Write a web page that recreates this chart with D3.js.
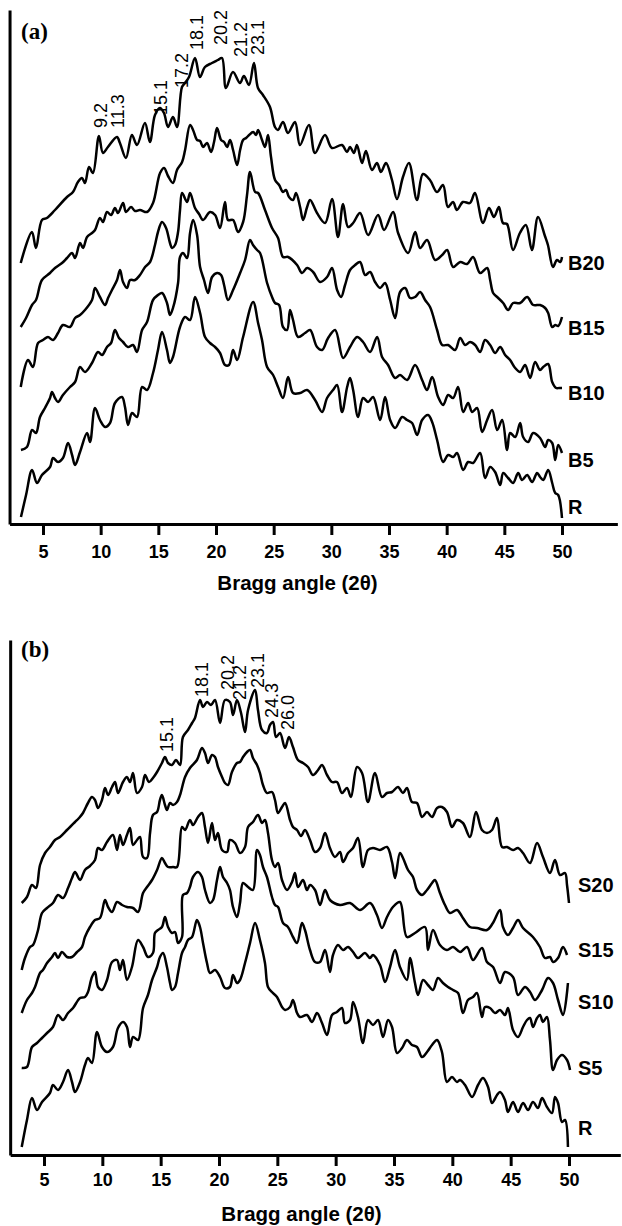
<!DOCTYPE html>
<html>
<head>
<meta charset="utf-8">
<script src="https://cdn.jsdelivr.net/npm/d3@7"></script>
<style>
body { margin: 0; background: #fff; }
svg { display: block; font-family: Arial, "Liberation Sans", sans-serif; }
.curve { fill: none; stroke: #000; stroke-width: 2.5; stroke-linejoin: round; }
.axis path, .axis line { stroke: #000; stroke-width: 3; }
.axis text { font-size: 18px; font-weight: bold; fill: #000; }
.title { font-size: 20.5px; font-weight: bold; }
.name { font-size: 20px; font-weight: bold; }
.peak { font-size: 18px; }
.panel { font-family: "Liberation Serif", "Times New Roman", serif; font-size: 23px; font-weight: bold; }
</style>
</head>
<body>
<svg width="622" height="1226"></svg>
<script>
// ---- panel (a): B series, 2theta (deg) and intensity (a.u.)
const b20Angle = [3.07,4.04,4.39,4.91,5.34,6.04,7.08,7.6,8.03,8.38,8.64,8.99,9.33,9.85,10.2,10.63,11.41,11.67,12.19,12.71,13.15,13.84,14.27,14.71,15.14,15.49,15.84,16.27,16.62,17.05,17.31,17.66,18.18,18.61,19.04,19.65,20.17,20.52,20.86,21.47,22.08,22.42,22.86,23.29,23.64,24.07,24.68,25.11,25.37,25.81,26.24,26.85,27.28,28.06,28.58,29.45,30.05,30.92,31.36,31.62,31.96,32.22,32.66,33.0,33.52,33.96,34.3,34.74,35.26,35.69,36.21,36.73,37.42,37.94,38.55,39.16,39.68,40.11,40.55,40.89,41.41,42.02,42.45,43.15,43.67,44.1,44.53,44.88,45.23,45.75,46.35,46.87,47.39,47.92,48.52,48.78,49.22,49.56,49.85,50.0]
const b20Int = [261,292,276,304,306,314,327,332,342,346,341,357,351,388,371,377,387,381,366,389,379,401,382,409,416,411,397,407,397,437,441,447,466,447,457,461,464,466,436,452,441,448,439,461,436,429,417,397,394,402,391,402,379,399,371,389,376,379,372,377,371,379,361,373,354,361,352,361,344,325,347,361,324,350,344,332,339,317,322,314,322,321,331,301,316,307,317,301,300,274,291,299,274,307,288,279,257,264,262,267]

const b15Angle = [3.07,3.53,4.05,4.39,4.91,5.61,6.04,6.65,7.08,7.52,7.78,8.21,8.47,8.82,9.25,9.51,9.94,10.2,10.55,10.9,11.24,11.5,11.94,12.2,12.63,12.98,13.41,14.02,14.54,15.15,15.5,15.84,16.27,16.62,17.06,17.32,17.75,18.01,18.36,18.62,18.88,19.22,19.57,19.83,20.09,20.44,20.7,20.96,21.22,21.48,21.83,22.09,22.35,22.61,22.87,23.22,23.47,23.65,23.99,24.25,24.51,24.77,25.12,25.47,25.81,26.07,26.33,26.68,26.94,27.29,27.55,27.9,28.16,28.76,29.46,30.06,30.58,31.02,31.45,31.89,32.49,33.19,34.05,34.57,35.36,35.79,36.66,37.27,37.7,38.3,39.0,39.61,40.04,40.56,41.17,41.77,42.29,42.9,43.51,43.77,44.03,44.38,44.9,45.33,45.76,46.37,46.98,47.5,48.1,48.54,48.8,49.15,49.41,49.67,50.0]
const b15Int = [197,206,219,224,244,251,256,261,266,271,266,281,276,287,291,294,306,302,312,309,316,311,321,312,317,313,314,312,321,351,356,348,341,354,362,374,399,394,384,383,377,381,372,382,396,384,382,377,384,374,359,374,384,386,389,392,389,394,384,377,389,367,344,339,332,334,327,324,331,317,304,317,324,311,301,325,287,320,297,301,311,289,309,294,312,291,271,292,276,284,264,269,274,257,262,260,267,251,256,244,231,227,221,214,221,221,227,219,219,216,211,197,199,198,207]

const b10Angle = [3.07,3.7,4.13,4.57,5.0,5.43,5.87,6.3,6.73,7.34,7.78,8.21,8.64,9.25,9.51,9.94,10.38,10.64,10.98,11.42,11.68,11.94,12.29,12.55,12.98,13.41,13.85,14.28,14.71,14.97,15.32,15.67,16.01,16.19,16.45,16.71,16.88,17.06,17.49,17.75,18.18,18.53,18.88,19.48,19.92,20.35,20.78,21.04,21.48,21.91,22.35,22.69,22.95,23.39,23.65,24.25,24.86,25.38,25.81,26.25,27.03,27.46,27.9,28.42,29.03,29.63,30.06,30.5,30.85,31.19,31.62,32.06,32.49,32.93,33.36,33.79,34.23,34.66,35.1,35.53,35.96,36.4,36.83,37.26,37.7,38.13,38.56,39.17,39.61,40.13,40.73,41.17,41.6,42.03,42.47,42.9,43.33,43.77,44.2,44.64,45.07,45.5,45.94,46.37,46.8,47.24,47.67,48.1,48.37,48.8,49.15,49.49,49.75,50.0]
const b10Int = [137,164,157,181,184,187,184,191,199,197,206,209,214,224,236,227,219,226,234,244,254,242,236,244,244,249,257,262,279,292,302,296,281,276,279,292,314,331,322,331,316,310,304,312,309,296,322,304,304,292,302,329,352,332,331,314,296,286,267,267,259,251,256,252,242,247,256,234,227,239,254,259,262,249,252,242,236,241,224,206,232,236,226,227,232,224,217,194,179,179,174,186,179,182,179,172,184,179,171,177,169,164,156,152,159,146,162,154,157,160,142,136,136,136]

const b5Angle = [3.09,3.61,4.05,4.39,4.74,5.17,5.61,5.78,6.04,6.3,6.73,7.34,7.78,8.21,8.64,9.25,9.77,10.12,10.55,10.9,11.24,11.59,11.94,12.37,12.81,13.15,13.59,14.02,14.54,14.97,15.32,15.75,16.01,16.27,16.71,16.88,17.14,17.49,17.75,18.01,18.36,18.62,18.96,19.31,19.66,20.09,20.44,20.7,21.04,21.48,22.09,22.52,22.95,23.21,23.56,23.82,24.43,24.86,25.12,25.47,25.81,26.16,26.42,26.68,27.12,27.72,28.16,28.76,29.2,29.72,30.33,31.02,31.62,32.23,32.75,33.36,33.97,34.4,34.92,35.53,35.96,36.57,37.26,37.87,38.3,38.74,39.26,39.69,40.13,40.56,40.99,41.43,41.86,42.21,42.64,43.07,43.51,43.94,44.38,44.81,45.24,45.5,45.94,46.37,46.63,47.06,47.5,48.1,48.54,48.8,49.15,49.41,49.67,50.0]
const b5Int = [74,77,94,91,107,116,126,132,126,122,129,137,142,157,152,161,172,169,177,181,194,186,182,177,179,172,194,202,224,229,231,221,209,216,241,267,271,266,291,304,289,257,244,231,247,251,249,239,224,234,251,264,284,279,274,271,241,227,221,219,197,194,214,204,187,191,194,177,174,186,194,166,177,187,182,172,187,167,159,146,149,144,159,144,134,147,127,119,129,126,137,112,121,112,116,92,104,114,94,104,74,91,87,101,87,82,91,86,77,84,81,64,79,71]

const raAngle = [3.09,3.53,4.05,4.48,4.91,5.61,5.87,6.3,6.73,7.17,7.52,7.78,8.21,8.82,9.08,9.51,9.94,10.38,10.81,11.24,11.85,12.11,12.37,12.72,13.15,13.59,14.02,14.54,14.97,15.32,15.75,16.01,16.27,16.88,17.32,17.75,18.18,18.62,19.05,19.48,19.92,20.35,20.78,21.13,21.48,21.83,22.35,23.22,23.65,23.99,24.43,24.95,25.38,25.81,26.25,26.68,27.29,27.9,28.59,29.2,29.63,30.15,30.5,30.93,31.37,31.62,31.89,32.32,32.75,33.19,33.62,34.23,34.66,35.1,35.53,36.14,36.57,37.0,37.44,37.87,38.39,38.74,39.17,39.69,40.13,40.56,40.9,41.43,41.86,42.29,42.9,43.33,43.77,44.2,44.64,44.9,45.33,45.76,46.2,46.54,46.98,47.41,47.84,48.1,48.37,48.8,49.15,49.41,49.67,50.0]
const raInt = [7,29,54,41,49,57,66,62,66,81,69,59,72,91,82,116,104,97,101,121,127,117,99,111,107,137,134,151,174,192,174,161,167,197,207,204,227,211,187,181,177,171,159,159,174,164,187,222,201,184,157,149,137,126,147,131,131,134,124,112,126,134,139,112,137,146,134,107,126,122,127,104,127,104,96,107,104,101,89,104,109,102,84,62,69,67,71,54,62,61,71,46,57,52,39,51,46,41,51,44,49,42,51,47,44,54,41,31,29,6]

// ---- panel (b): S series
const s20Angle = [3.09,3.54,3.97,4.31,4.66,5.09,5.51,5.94,6.37,6.97,7.23,7.66,8.0,8.34,8.77,9.11,9.37,9.63,9.97,10.23,10.49,10.83,11.09,11.34,11.77,12.11,12.37,12.63,12.97,13.4,13.66,14.0,14.34,14.69,15.11,15.37,15.63,15.97,16.31,16.66,16.91,17.34,17.69,17.94,18.37,18.63,18.97,19.31,19.66,20.09,20.51,20.94,21.2,21.54,21.89,22.23,22.49,23.09,23.34,23.69,24.11,24.37,24.63,24.89,25.23,25.66,26.0,26.34,26.77,27.2,27.63,28.06,28.49,28.83,29.26,29.69,30.11,30.54,30.97,31.31,31.83,32.26,32.77,33.37,33.97,34.4,34.83,35.34,35.77,36.11,36.54,36.97,37.4,37.83,38.26,38.69,39.11,39.54,39.97,40.4,40.91,41.51,42.03,42.54,42.97,43.4,43.83,44.26,44.69,45.2,45.63,46.06,46.66,47.26,47.77,48.37,48.8,49.23,49.66,49.83,50.0]
const s20Int = [252,258,270,267,290,302,308,315,318,325,328,333,337,342,352,358,355,347,355,367,360,368,373,362,373,378,373,382,362,368,380,373,377,383,392,398,392,390,395,390,418,425,432,437,455,448,453,450,455,432,455,453,440,455,442,423,445,465,445,425,422,430,433,418,422,407,418,408,395,392,388,380,385,390,380,373,373,362,367,358,388,382,353,382,358,362,363,368,362,367,353,352,338,343,338,347,348,343,328,335,332,318,343,325,322,325,337,308,308,305,307,302,292,312,298,282,295,280,282,270,252]

const s15Angle = [3.09,3.37,3.8,4.06,4.49,4.83,5.26,5.77,6.2,6.63,7.06,7.4,7.66,8.09,8.51,8.94,9.37,9.63,9.97,10.4,10.91,11.26,11.51,11.77,12.11,12.37,12.63,12.97,13.23,13.49,13.83,14.09,14.34,14.69,14.94,15.11,15.37,15.54,15.8,16.06,16.4,16.66,17.09,17.51,18.11,18.54,18.8,19.06,19.4,19.66,19.91,20.26,20.51,20.77,21.11,21.54,21.8,22.06,22.4,22.66,22.91,23.26,23.51,23.77,24.11,24.54,24.8,25.06,25.4,25.66,26.09,26.34,26.69,27.03,27.37,27.8,28.23,28.66,29.09,29.51,29.94,30.37,30.63,31.06,31.49,31.91,32.34,32.77,33.2,33.8,34.4,34.83,35.09,35.51,35.77,36.2,36.63,36.97,37.4,37.83,38.26,38.51,38.94,39.37,39.8,40.4,40.91,41.51,42.11,42.97,43.48,44.09,44.34,44.77,45.2,45.63,46.06,46.91,47.51,47.94,48.37,48.63,49.06,49.48,49.83]
const s15Int = [185,197,208,210,225,242,247,252,260,257,267,277,283,275,285,289,295,307,305,313,320,305,320,310,320,327,310,315,318,298,297,322,340,343,355,360,350,345,352,350,353,360,378,387,395,407,402,392,400,398,388,378,372,370,383,392,393,398,403,405,397,390,382,370,362,363,355,342,348,352,335,328,325,319,325,315,303,307,322,307,298,303,293,302,307,317,288,305,307,305,308,293,277,302,297,285,278,265,260,265,272,275,262,250,242,245,237,228,227,225,232,245,228,220,227,235,227,218,208,197,198,193,197,208,200]

const s10Angle = [3.09,3.54,3.97,4.23,4.66,4.91,5.26,5.69,5.94,6.2,6.54,6.97,7.4,7.83,8.26,8.51,8.94,9.37,9.8,10.23,10.49,10.83,11.26,11.69,12.11,12.63,13.06,13.49,13.83,14.26,14.69,15.11,15.37,15.63,16.06,16.4,16.83,17.09,17.51,17.77,18.2,18.54,18.8,19.06,19.4,19.66,19.91,20.26,20.69,20.94,21.37,21.8,22.23,22.49,22.91,23.34,23.69,23.94,24.2,24.54,24.8,25.06,25.4,25.83,26.26,26.51,26.77,27.2,27.54,27.8,28.23,28.66,29.09,29.51,30.37,31.23,32.09,32.94,33.54,33.97,34.4,34.91,35.51,36.11,36.8,37.66,37.91,38.34,38.94,39.54,40.06,40.66,41.26,41.77,42.54,42.97,43.49,44.09,44.51,45.2,45.63,46.23,46.66,47.09,47.69,48.2,48.63,49.06,49.49,49.91]
const s10Int = [142,155,162,168,182,185,192,198,202,197,203,198,198,203,208,218,228,235,237,255,248,243,253,250,248,247,243,262,268,275,285,297,292,288,288,288,328,325,335,330,338,342,328,312,332,315,322,305,303,315,312,302,308,328,333,340,332,335,322,295,288,292,275,265,273,282,268,275,265,270,265,250,265,255,250,252,245,252,240,227,238,248,253,218,222,228,205,225,210,205,208,203,208,195,207,193,188,172,183,178,160,168,163,155,165,177,172,155,140,172]

const s5Angle = [3.09,3.54,3.97,4.4,4.83,5.26,5.77,6.2,6.63,7.06,7.49,8.09,8.51,8.77,9.11,9.37,9.63,9.97,10.4,10.83,11.26,11.51,11.77,12.11,12.54,13.06,13.49,13.91,14.34,14.51,14.77,15.11,15.37,15.63,15.97,16.23,16.49,16.83,16.91,17.26,17.51,17.77,18.2,18.54,18.8,19.23,19.49,19.83,20.09,20.34,20.69,20.94,21.2,21.54,21.8,22.06,22.49,22.91,23.26,23.51,23.77,24.11,24.54,24.8,25.06,25.49,25.91,26.34,26.69,27.11,27.37,27.8,28.23,28.66,29.09,29.51,29.77,30.2,30.63,31.06,31.49,31.91,32.51,32.94,33.2,33.8,34.23,34.66,35.09,35.51,36.11,36.37,36.8,37.06,37.49,37.91,38.34,38.77,39.2,39.63,40.06,40.49,40.91,41.34,41.77,42.11,42.54,42.8,43.23,43.66,44.09,44.51,44.77,45.2,45.63,46.06,46.4,46.66,46.91,47.26,47.51,47.77,48.11,48.37,48.63,48.97,49.4,49.83,50.09]
const s5Int = [87,88,108,112,117,122,128,140,135,142,147,157,158,163,178,183,168,165,175,193,195,185,195,175,188,215,208,198,202,222,225,228,238,228,222,223,212,218,260,262,268,278,283,278,265,252,255,275,288,278,272,265,248,238,252,272,268,265,305,300,288,278,258,250,248,232,228,218,212,232,225,205,193,193,205,183,200,210,205,208,203,197,202,197,200,190,173,188,205,188,175,197,172,160,175,170,165,177,172,168,165,162,142,155,158,162,138,148,147,142,145,140,147,125,118,128,135,137,128,137,140,133,138,115,85,95,100,95,85]

const rbAngle = [3.09,3.54,3.97,4.4,4.83,5.51,5.77,6.2,6.63,7.06,7.4,7.66,8.09,8.51,8.77,9.11,9.54,9.97,10.4,10.91,11.34,11.77,12.11,12.37,12.63,13.06,13.49,13.91,14.26,14.69,14.94,15.2,15.54,15.8,15.97,16.23,16.49,16.83,17.09,17.34,17.69,18.11,18.37,18.63,18.97,19.23,19.66,20.09,20.51,20.94,21.2,21.54,21.8,22.23,22.66,23.09,23.51,23.94,24.2,24.54,24.97,25.4,25.66,26.09,26.34,26.69,26.94,27.54,27.97,28.4,28.83,29.26,29.69,30.11,30.54,30.8,31.23,31.49,31.91,32.34,32.77,33.2,33.63,34.06,34.49,34.83,35.26,35.69,36.11,36.54,36.97,37.4,37.83,38.26,38.69,39.11,39.54,39.97,40.4,40.66,41.09,41.69,42.2,42.63,43.06,43.4,43.83,44.09,44.51,44.77,45.2,45.63,46.06,46.49,46.91,47.34,47.69,48.11,48.54,48.8,49.06,49.4,49.66,49.91]
const rbInt = [8,35,57,45,53,62,70,65,73,85,73,63,73,90,97,92,123,108,103,108,127,133,128,108,118,115,147,160,175,188,198,202,188,172,165,168,182,202,208,215,218,235,228,212,192,182,185,178,167,168,180,172,175,192,212,232,215,192,168,163,158,148,145,148,155,142,138,140,133,142,132,120,140,143,147,132,135,153,138,112,135,130,135,118,135,128,102,107,115,110,108,98,103,110,115,103,73,78,73,75,70,58,70,77,68,52,60,63,55,43,53,43,52,45,53,47,57,48,42,58,52,33,35,8]

// sample names, and the intensity level each name sits at
const namesA = ['B20', 'B15', 'B10', 'B5', 'R']
const nameLevelA = [261, 196, 131, 64, 17]
const namesB = ['S20', 'S15', 'S10', 'S5', 'R']
const nameLevelB = [270, 205, 153, 87, 27]

// peak annotations: text, angle where it is drawn, intensity where it starts
const peaksA = ['9.2', '11.3', '15.1', '17.2', '18.1', '20.2', '21.2', '23.1']
const peaksAAt = [10.01, 11.46, 15.15, 16.97, 18.27, 20.35, 22.09, 23.56]
const peaksABase = [396, 396, 409, 436, 474, 479, 467, 469]
const peaksB = ['15.1', '18.1', '20.2', '21.2', '23.1', '24.3', '26.0']
const peaksBAt = [15.54, 18.54, 20.69, 21.8, 23.26, 24.54, 25.91]
const peaksBBase = [403, 458, 465, 455, 467, 437, 425]

const ticks = d3.range(5, 51, 5)

const svg = d3.select('svg')

const panels = [
	{
		tag: '(a)', names: namesA, levels: nameLevelA,
		series: [[b20Angle, b20Int], [b15Angle, b15Int], [b10Angle, b10Int], [b5Angle, b5Int], [raAngle, raInt]],
		peaks: peaksA, peakAt: peaksAAt, peakBase: peaksABase,
		x5: 43, x50: 562, xEnd: 54.8, base: 524, top: 10, pad: 10, nameGap: 6, titleY: 590, tagY: 39,
	},
	{
		tag: '(b)', names: namesB, levels: nameLevelB,
		series: [[s20Angle, s20Int], [s15Angle, s15Int], [s10Angle, s10Int], [s5Angle, s5Int], [rbAngle, rbInt]],
		peaks: peaksB, peakAt: peaksBAt, peakBase: peaksBBase,
		x5: 44, x50: 569, xEnd: 54.4, base: 1155, top: 640, pad: 7, nameGap: 9, titleY: 1221, tagY: 657,
	},
]

panels.forEach(p => {
	const x = d3.scaleLinear().domain([5, 50]).range([p.x5, p.x50])
	const x0 = x(2.1), x1 = x(p.xEnd)
	x.domain([2.1, p.xEnd]).range([x0, x1])
	const y = d3.scaleLinear().domain([0, p.base - p.top]).range([p.base, p.top])
	const g = svg.append('g')

	g.append('g').classed('axis', true)
		.attr('transform', `translate(0, ${p.base})`)
		.call(d3.axisBottom(x).tickValues(ticks).tickSize(11).tickSizeOuter(0).tickPadding(p.pad))
	g.append('g').classed('axis', true)
		.attr('transform', `translate(${x0}, 0)`)
		.call(d3.axisLeft(y).tickValues([]).tickSizeOuter(0))

	const line = d3.line()
		.x(d => x(d[0]))
		.y(d => y(d[1]))
		.curve(d3.curveCatmullRom.alpha(0.5))
	g.selectAll('path.curve').data(p.series).join('path').classed('curve', true)
		.attr('d', s => line(d3.zip(s[0], s[1])))

	g.selectAll('text.name').data(p.names).join('text').classed('name', true)
		.attr('x', x(50) + p.nameGap)
		.attr('y', (_, i) => y(p.levels[i]))
		.attr('dy', '0.35em')
		.text(d => d)

	g.selectAll('text.peak').data(p.peaks).join('text').classed('peak', true)
		.attr('transform', (_, i) => `translate(${x(p.peakAt[i])}, ${y(p.peakBase[i])}) rotate(-90)`)
		.attr('dy', '0.36em')
		.text(d => d)

	g.append('text').classed('title', true)
		.attr('x', x(27.5) - 5)
		.attr('y', p.titleY)
		.attr('text-anchor', 'middle')
		.text('Bragg angle (2θ)')

	g.append('text').classed('panel', true)
		.attr('x', 21)
		.attr('y', p.tagY)
		.text(p.tag)
})
</script>
</body>
</html>
